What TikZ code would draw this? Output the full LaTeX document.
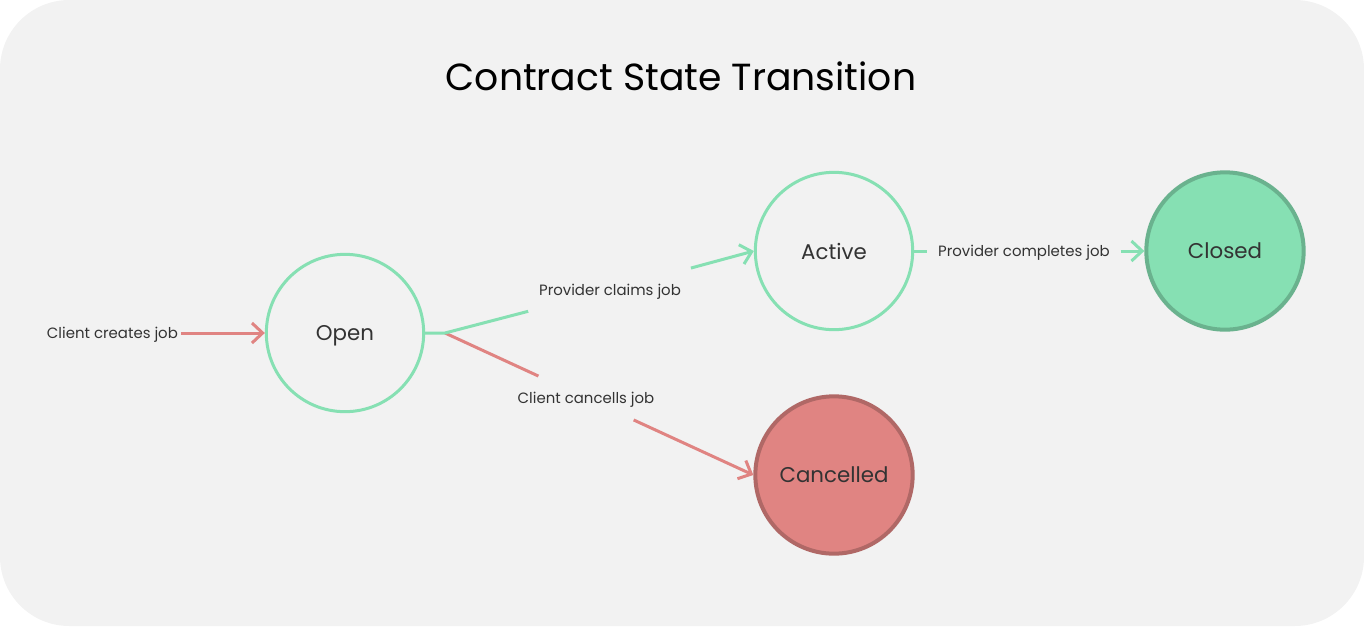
\documentclass[tikz,border=0pt]{standalone}
\usepackage{fontspec}
\setmainfont{Poppins}
\usetikzlibrary{arrows.meta,positioning}
\definecolor{PanelGray}{HTML}{F2F2F2}
\definecolor{MintGreen}{HTML}{86E0B3}
\definecolor{DeepMint}{HTML}{6AB28E}
\definecolor{SoftRed}{HTML}{E08482}
\definecolor{DeepRed}{HTML}{B06866}
\definecolor{InkGray}{HTML}{333333}
\tikzset{
  state/.style={circle,draw=MintGreen,line width=2.25pt,minimum size=118pt,
    inner sep=0pt,text depth=0pt,text=InkGray,font=\fontsize{16}{18}\selectfont},
  finalok/.style={state,fill=MintGreen,draw=DeepMint,line width=3pt},
  finalbad/.style={state,fill=SoftRed,draw=DeepRed,line width=3pt},
  edgelabel/.style={text=InkGray,font=\fontsize{11.2}{13}\selectfont,
    text depth=0pt,inner xsep=8pt,inner ysep=12pt},
  okline/.style={draw=MintGreen,line width=2.25pt},
  badline/.style={draw=SoftRed,line width=2.25pt},
  okarrow/.style={okline,-{Straight Barb[length=8pt,width=15pt,line width=2.25pt]}},
  badarrow/.style={badline,-{Straight Barb[length=8pt,width=15pt,line width=2.25pt]}},
}
\begin{document}
\begin{tikzpicture}[x=0.75pt,y=-0.75pt]
  % panel
  \fill[PanelGray,rounded corners=52pt] (0,0) rectangle (1364,626);
  \useasboundingbox (0,0) rectangle (1364,626);
  \node[font=\fontsize{28.3}{32}\selectfont] (title) at (681,76) {Contract State Transition};
  % states
  \node[state] (open) at (345,333) {Open};
  \node[state] (active) at (834,251) {Active};
  \node[finalok] (closed) at (1225,251) {Closed};
  \node[finalbad] (cancelled) at (834,475) {Cancelled};
  % labels
  \node[edgelabel,inner xsep=2pt,left=63pt of open] (create) {Client creates job};
  \node[edgelabel] (claims) at (610,290) {Provider claims job};
  \node[edgelabel] (cancel) at (586,398) {Client cancells job};
  \node[edgelabel] (done) at (1024,251) {Provider completes job};
  \coordinate (fork) at (445,333);
  % transitions
  \draw[badarrow] (create) -- (open);
  \draw[badline] (fork) -- (cancel);
  \draw[badarrow] (cancel) -- (cancelled.west);
  \draw[okline] (open) -- (fork) -- (claims);
  \draw[okarrow] (claims) -- (active.west);
  \draw[okline] (active) -- (done);
  \draw[okarrow] (done) -- (closed);
\end{tikzpicture}
\end{document}
